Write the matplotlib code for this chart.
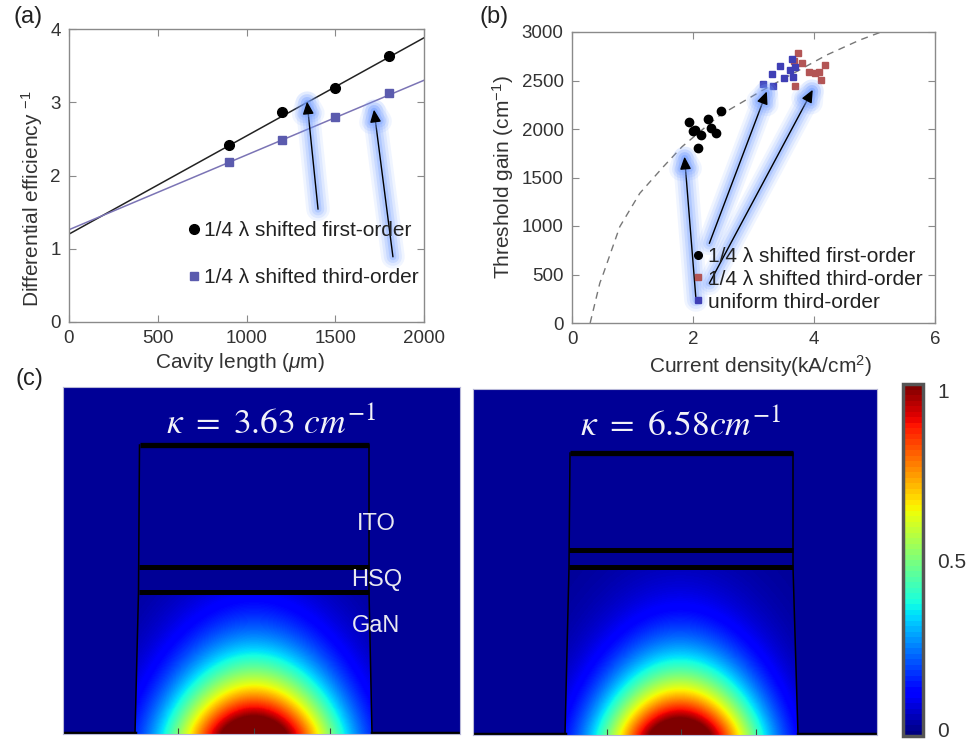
import numpy as np
import matplotlib
matplotlib.use('Agg')
import matplotlib.pyplot as plt
from matplotlib.lines import Line2D
import matplotlib.patheffects as pe
from matplotlib.colors import Normalize
from matplotlib.cm import ScalarMappable

plt.rcParams['font.family'] = ['Liberation Sans', 'DejaVu Sans']
plt.rcParams['mathtext.fontset'] = 'custom'
plt.rcParams['mathtext.rm'] = 'Liberation Sans'
plt.rcParams['mathtext.it'] = 'Liberation Sans:italic'
plt.rcParams['mathtext.bf'] = 'Liberation Sans:bold'

# ---------------- data: panel (a) ----------------
cavity_len = [900, 1200, 1500, 1800]
inv_eff_first = [2.41, 2.87, 3.19, 3.63]
inv_eff_third = [2.18, 2.49, 2.80, 3.12]
fit_len = [0, 2000]
fit_first = [1.20, 3.88]
fit_third = [1.26, 3.30]
arrows_a = [((1403, 1.54), (1341, 3.01)), ((1825, 0.89), (1718, 2.90))]
labels_a = ['1/4 λ shifted first-order', '1/4 λ shifted third-order']

# ---------------- data: panel (b) ----------------
first_J = [1.94, 2.03, 2.14, 2.08, 2.25, 2.29, 2.38, 2.46, 2.00]
first_g = [2076, 1990, 1938, 1801, 2103, 2007, 1955, 2186, 1975]
shift3_J = [3.74, 3.67, 3.80, 3.69, 3.92, 4.02, 4.09, 4.19, 4.11]
shift3_g = [2787, 2704, 2677, 2443, 2591, 2574, 2591, 2660, 2505]
unif3_J = [3.16, 3.32, 3.30, 3.44, 3.50, 3.60, 3.65, 3.69, 3.63]
unif3_g = [2464, 2447, 2563, 2653, 2529, 2608, 2540, 2643, 2718]
curve_J = [0.30, 0.46, 0.52, 0.79, 1.12, 1.51, 1.82, 2.28, 2.45, 3.11, 4.21, 4.76, 5.11]
curve_g = [0, 412, 512, 993, 1337, 1611, 1818, 2059, 2144, 2385, 2763, 2918, 3000]
arrows_b = [((2.05, 237), (1.86, 1715)), ((2.27, 821), (3.22, 2388)), ((2.27, 409), (3.98, 2405))]
labels_b = ['1/4 λ shifted first-order', '1/4 λ shifted third-order', 'uniform third-order']

# ---------------- data: panel (c) ----------------
kappa_titles = [r'$\kappa\ =\ 3.63\ cm^{-1}$', r'$\kappa\ =\ 6.58cm^{-1}$']
img_size = [(397, 347), (404, 346)]
ridge_top = [289, 282]
hsq_lines = [(167, 142), (185, 168)]
ridge_left = [(76.5, 75.5, 72), (97, 96, 92)]     # x at top, at GaN top, at bottom
ridge_right = [(306, 306, 309), (320, 320, 325)]
mode_center = [191, 207]
mode_width = [(82, 70), (76, 66)]                  # lateral, vertical decay lengths (px)
mode_power = (2.0, 1.35)
mode_amp = 1.15
bottom_ticks = [[115, 191, 267], [134, 208, 283]]
layer_names = ['ITO', 'HSQ', 'GaN']
layer_pos = [(313, 210), (314, 154), (313, 108)]
cbar_ticks = [0, 0.5, 1]

W, H = 969, 740
fig = plt.figure(figsize=(W / 100, H / 100), dpi=100)


def px_axes(l, t, r, b):
    return fig.add_axes([l / W, 1 - b / H, (r - l) / W, (b - t) / H])


def style(ax):
    for s in ax.spines.values():
        s.set_color('#8a8a8a')
        s.set_linewidth(1.0)
    ax.tick_params(direction='in', top=True, right=True, length=5, width=0.8,
                   color='#8a8a8a', labelsize=13.5, labelcolor='#333333', pad=6)


glow_col = (0.45, 0.62, 1.0)
glow = [pe.Stroke(linewidth=17, foreground=glow_col, alpha=0.10),
        pe.Stroke(linewidth=13, foreground=glow_col, alpha=0.14),
        pe.Stroke(linewidth=9, foreground=glow_col, alpha=0.20),
        pe.Stroke(linewidth=5, foreground=glow_col, alpha=0.28),
        pe.Normal()]


def glow_arrow(ax, tail, head):
    ann = ax.annotate('', xy=head, xytext=tail,
                      arrowprops=dict(arrowstyle='-|>,head_length=0.75,head_width=0.33',
                                      color='black', lw=1.0, mutation_scale=10,
                                      shrinkA=0, shrinkB=0))
    ann.arrow_patch.set_path_effects(glow)


purple = '#5b5bae'
purple_line = '#7b74b5'
blue_sq = '#3f3fb5'
red_sq = '#b35555'

# ---------------- panel (a) ----------------
axa = px_axes(69, 29, 424, 322)
style(axa)
axa.plot(fit_len, fit_first, color='#222222', lw=1.1)
axa.plot(fit_len, fit_third, color=purple_line, lw=1.1)
axa.plot(cavity_len, inv_eff_first, 'o', color='black', ms=7)
axa.plot(cavity_len, inv_eff_third, 's', color=purple, ms=5.5)
for t, h in arrows_a:
    glow_arrow(axa, t, h)
axa.set_xlim(0, 2000)
axa.set_ylim(0, 4)
axa.set_xticks([0, 500, 1000, 1500, 2000])
axa.set_yticks([0, 1, 2, 3, 4])
axa.set_xlabel(r'Cavity length ($\mu$m)', fontsize=15, color='#333333')
axa.set_ylabel(r'Differential efficiency $^{-1}$', fontsize=15, color='#333333')
axa.xaxis.set_label_coords(0.482, -0.137)
axa.yaxis.set_label_coords(-0.104, 0.42)
for lab in (axa.xaxis.label, axa.yaxis.label):
    lab.set_va('center'); lab.set_ha('center'); lab.set_rotation_mode('default')
ha = [Line2D([], [], marker='o', ls='none', color='black', ms=7),
      Line2D([], [], marker='s', ls='none', color=purple, ms=5.5)]
axa.legend(ha, labels_a, loc='upper left', bbox_to_anchor=((189 - 69) / 355, 1 - (221 - 29) / 293),
           frameon=False, fontsize=15, handlelength=0.5, handletextpad=0.2,
           labelspacing=1.35, borderpad=0, borderaxespad=0, labelcolor='#222222')

# ---------------- panel (b) ----------------
axb = px_axes(572, 32, 935, 323)
style(axb)
axb.plot(curve_J, curve_g, ls=(0, (5, 4)), color='#777777', lw=1.0)
axb.plot(first_J, first_g, 'o', color='black', ms=6)
axb.plot(shift3_J, shift3_g, 's', color=red_sq, ms=5)
axb.plot(unif3_J, unif3_g, 's', color=blue_sq, ms=5)
for t, h in arrows_b:
    glow_arrow(axb, t, h)
axb.set_xlim(0, 6)
axb.set_ylim(0, 3000)
axb.set_xticks([0, 2, 4, 6])
axb.set_yticks([0, 500, 1000, 1500, 2000, 2500, 3000])
axb.set_xlabel(r'Current density(kA/cm$^{2}$)', fontsize=15, color='#333333')
axb.set_ylabel(r'Threshold gain (cm$^{-1}$)', fontsize=15, color='#333333')
axb.xaxis.set_label_coords(0.52, -0.148)
axb.yaxis.set_label_coords(-0.19, 0.502)
for lab in (axb.xaxis.label, axb.yaxis.label):
    lab.set_va('center'); lab.set_ha('center'); lab.set_rotation_mode('default')
hb = [Line2D([], [], marker='o', ls='none', color='black', ms=5.5),
      Line2D([], [], marker='s', ls='none', color=red_sq, ms=4.5),
      Line2D([], [], marker='s', ls='none', color=blue_sq, ms=4.5)]
axb.legend(hb, labels_b, loc='upper left', bbox_to_anchor=((693 - 572) / 363, 1 - (247 - 32) / 291),
           frameon=False, fontsize=15, handlelength=0.5, handletextpad=0.2,
           labelspacing=0.18, borderpad=0, borderaxespad=0, labelcolor='#222222')

# ---------------- panel (c) ----------------
img_boxes = [(63, 387, 460, 734), (473, 389, 877, 735)]
bg_level = 0.02
for i in range(2):
    l, t, r, b = img_boxes[i]
    ax = px_axes(l, t, r, b)
    w, h = img_size[i]
    x = np.arange(w) + 0.5
    y = np.arange(h) + 0.5
    X, Y = np.meshgrid(x, y)
    wx, wy = mode_width[i]
    px_, py_ = mode_power
    R2 = (np.abs(X - mode_center[i]) / wx) ** px_ + (Y / wy) ** py_
    F = np.minimum(1.0, mode_amp * np.exp(-R2))
    gan_top = hsq_lines[i][1]
    xl = np.interp(Y, [0, gan_top], [ridge_left[i][2], ridge_left[i][1]])
    xr = np.interp(Y, [0, gan_top], [ridge_right[i][2], ridge_right[i][1]])
    mask = (X > xl) & (X < xr) & (Y < gan_top)
    F = np.where(mask, F, 0.0) + bg_level
    ax.imshow(F, cmap='jet', vmin=0, vmax=1, origin='lower', extent=[0, w, 0, h],
              aspect='auto', interpolation='bilinear')
    # ridge outline
    rl, rr = ridge_left[i], ridge_right[i]
    ax.plot([rl[0], rl[1], rl[2]], [ridge_top[i], gan_top, 0], color='black', lw=1.1)
    ax.plot([rr[0], rr[1], rr[2]], [ridge_top[i], gan_top, 0], color='black', lw=1.1)
    ax.plot([rl[0], rr[0]], [ridge_top[i], ridge_top[i]], color='black', lw=3.8, solid_capstyle='butt')
    for yy in hsq_lines[i]:
        xa = np.interp(yy, [gan_top, ridge_top[i]], [rl[1], rl[0]])
        xb = np.interp(yy, [gan_top, ridge_top[i]], [rr[1], rr[0]])
        ax.plot([xa, xb], [yy, yy], color='black', lw=3.6, solid_capstyle='butt')
    ax.plot([0, rl[2]], [1, 1], color='black', lw=2.5)
    ax.plot([rr[2], w], [1, 1], color='black', lw=2.5)
    ax.text(mode_center[i] + (17 if i == 0 else 1), h - 36, kappa_titles[i], color='#f2f2f8',
            fontsize=25.5, ha='center', va='center', math_fontfamily='stix')
    if i == 0:
        for name, (tx, ty) in zip(layer_names, layer_pos):
            ax.text(tx, ty, name, color='#e8e8f0', fontsize=17, ha='center', va='center')
    ax.set_xlim(0, w)
    ax.set_ylim(0, h)
    ax.set_xticks(bottom_ticks[i])
    ax.set_yticks([])
    ax.tick_params(direction='in', length=4, color='#444444', labelbottom=False)
    for s in ax.spines.values():
        s.set_color('#b8b8d8')
        s.set_linewidth(0.8)

cax = px_axes(903, 384, 923, 736)
cb = fig.colorbar(ScalarMappable(norm=Normalize(-0.02, 1.02), cmap=plt.get_cmap('jet', 64)),
                  cax=cax, ticks=cbar_ticks)
cb.ax.set_yticklabels(['0', '0.5', '1'])
cb.ax.tick_params(length=0, labelsize=15, pad=10, labelcolor='#333333')
cb.outline.set_edgecolor('#555555')
cb.outline.set_linewidth(2.5)

# panel labels
fig.text(28 / W, 1 - 17 / H, '(a)', fontsize=17, ha='center', va='center', color='#222222')
fig.text(494 / W, 1 - 17 / H, '(b)', fontsize=17, ha='center', va='center', color='#222222')
fig.text(29 / W, 1 - 379 / H, '(c)', fontsize=17, ha='center', va='center', color='#222222')

fig.savefig('out.png', dpi=100)
